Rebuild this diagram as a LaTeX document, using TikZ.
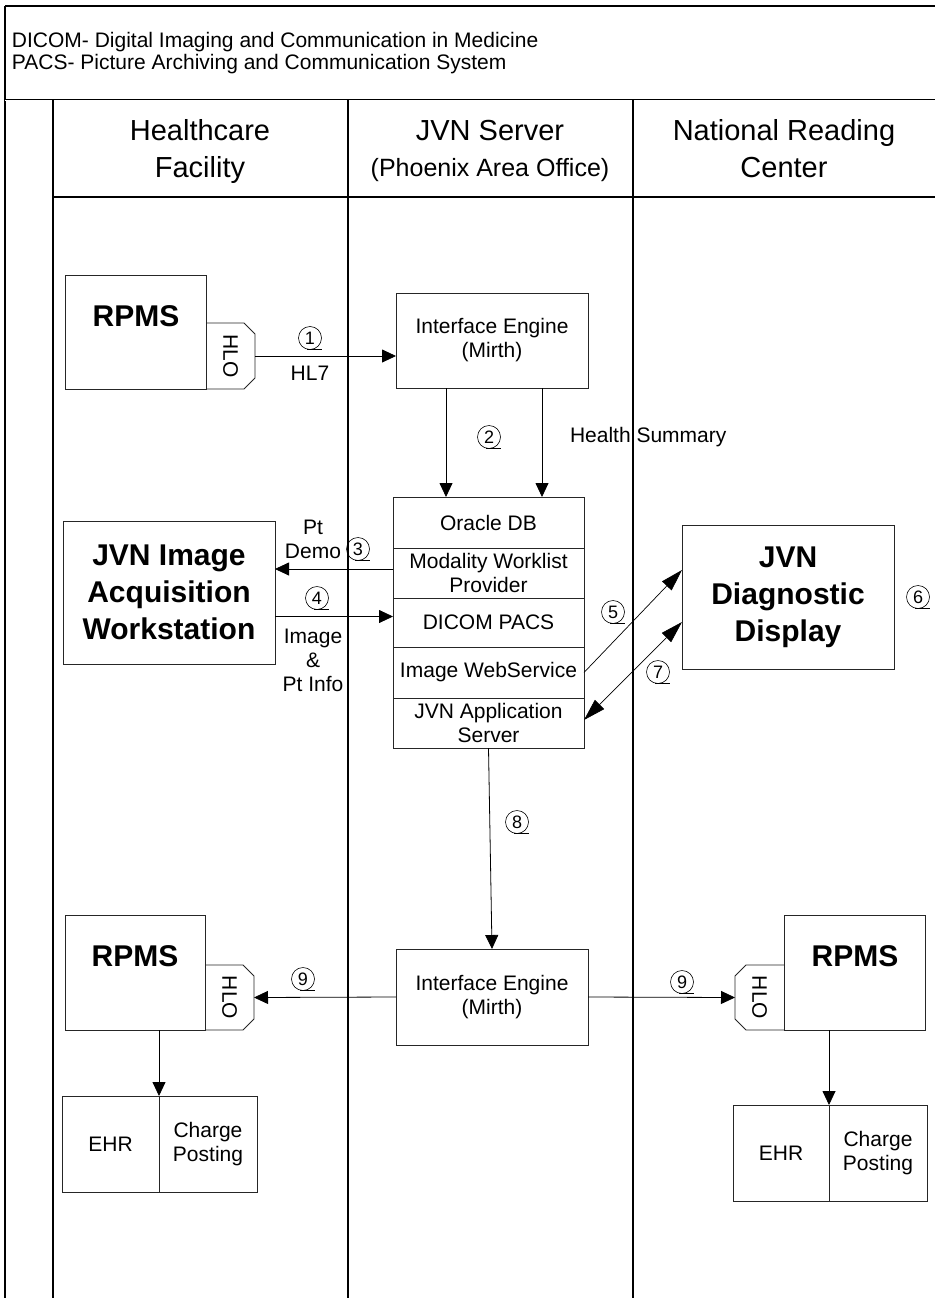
\documentclass[tikz,border=0pt]{standalone}
\usepackage{fontspec}
\setmainfont{Liberation Sans}
\usepackage{graphicx}
\usetikzlibrary{arrows.meta}
\newcommand\circnum[3]{%
  \node[num] (#1) at (#2) {#3};
  \draw[line width=0.6pt] ([xshift=-3pt]#1.south) -- ([xshift=12pt]#1.south);}
\begin{document}
\begin{tikzpicture}[x=1pt,y=-1pt,
  every node/.style={inner sep=0pt,outer sep=0pt},
  lane/.style={line width=1.1pt,black},
  bx/.style={draw=black!85,line width=0.9pt,rectangle},
  hloline/.style={draw=black!85,line width=0.9pt},
  arr/.style={line width=0.8pt,-{Triangle[length=14pt,width=13pt]}},
  darr/.style={line width=0.7pt,-{Triangle[length=22pt,width=13pt]}},
  ddarr/.style={line width=0.7pt,{Triangle[length=22pt,width=13pt]}-{Triangle[length=22pt,width=13pt]}},
  tn/.style={font=\fontsize{21}{24}\selectfont,align=center},
  tleg/.style={font=\fontsize{21}{24}\selectfont,anchor=base west},
  thead/.style={font=\fontsize{29}{37}\selectfont,anchor=base},
  tsub/.style={font=\fontsize{25}{30}\selectfont,anchor=base},
  tbig/.style={font=\fontsize{30}{37}\bfseries\selectfont,align=center},
  hlo/.style={font=\fontsize{21}{24}\selectfont,minimum width=49pt,minimum height=65pt},
  num/.style={circle,draw,line width=0.6pt,minimum size=23pt,font=\fontsize{18}{18}\selectfont},
]
\useasboundingbox (0,0) rectangle (935,1298);

% frame and lanes
\draw[lane] (5,6) -- (935,6);
\draw[lane] (5,6) -- (5,1298);
\draw[line width=0.6pt,double,double distance=1pt] (5,100) -- (935,100);
\draw[lane] (53,100) -- (53,1298);
\draw[lane] (348,100) -- (348,1298);
\draw[lane] (633,100) -- (633,1298);
\draw[lane] (53,197) -- (935,197);

% legend
\node[tleg] (leg1) at (12,47.5) {DICOM- Digital Imaging and Communication in Medicine};
\node[tleg] (leg2) at (12,69.5) {PACS- Picture Archiving and Communication System};

% lane headers
\node[thead] (h1a) at (200,140.5) {Healthcare};
\node[thead] (h1b) at (200,177.5) {Facility};
\node[thead] (h2a) at (490,140.5) {JVN Server};
\node[tsub]  (h2b) at (490,176) {(Phoenix Area Office)};
\node[thead] (h3a) at (784,140.5) {National Reading};
\node[thead] (h3b) at (784,177.5) {Center};

% top RPMS with HLO
\node[bx,minimum width=141pt,minimum height=114pt] (rpms1) at (135.5,332) {};
\node[tbig] (rpmst1) at (136,316) {RPMS};
\node[hlo,minimum height=66pt] (hlo1) at (230.5,356) {\rotatebox{-90}{HLO}};
\draw[hloline] (hlo1.north west) -- ([xshift=-11pt]hlo1.north east) -- ([yshift=-11pt]hlo1.north east)
  -- ([yshift=11pt]hlo1.south east) -- ([xshift=-11pt]hlo1.south east) -- (hlo1.south west);

% interface engine (top)
\node[bx,tn,minimum width=192pt,minimum height=95pt] (ie1) at (492,340.5) {Interface Engine\\(Mirth)};

% server stack
\node[bx,tn,minimum width=191pt,minimum height=51pt] (ora) at (488.5,522.5) {Oracle DB};
\node[bx,tn,minimum width=191pt,minimum height=50pt] (mod) at (488.5,573) {Modality Worklist\\Provider};
\node[bx,tn,minimum width=191pt,minimum height=49pt] (dic) at (488.5,622.5) {DICOM PACS};
\node[bx,tn,minimum width=191pt,minimum height=51pt] (iws) at (488.5,672.5) {Image WebService};
\node[bx,tn,minimum width=191pt,minimum height=50pt] (app) at (488.5,723) {JVN Application\\Server};

% workstation and display
\node[bx,tbig,minimum width=212pt,minimum height=143pt] (wks) at (169,592.5) {JVN Image\\Acquisition\\Workstation};
\node[bx,tbig,minimum width=212pt,minimum height=144pt] (disp) at (788,597) {JVN\\Diagnostic\\Display};

% bottom interface engine
\node[bx,tn,minimum width=192pt,minimum height=96pt] (ie2) at (492,997) {Interface Engine\\(Mirth)};

% bottom left RPMS
\node[bx,minimum width=140pt,minimum height=115pt] (rpms2) at (135,972.5) {};
\node[tbig] (rpmst2) at (135,956) {RPMS};
\node[hlo] (hlo2) at (229.5,997.5) {\rotatebox{-90}{HLO}};
\draw[hloline] (hlo2.north west) -- ([xshift=-11pt]hlo2.north east) -- ([yshift=-11pt]hlo2.north east)
  -- ([yshift=11pt]hlo2.south east) -- ([xshift=-11pt]hlo2.south east) -- (hlo2.south west);

% bottom right RPMS
\node[bx,minimum width=141pt,minimum height=115pt] (rpms3) at (854.5,972.5) {};
\node[tbig] (rpmst3) at (855,956) {RPMS};
\node[hlo] (hlo3) at (759.5,997.5) {\rotatebox{-90}{HLO}};
\draw[hloline] (hlo3.north east) -- ([xshift=11pt]hlo3.north west) -- ([yshift=-11pt]hlo3.north west)
  -- ([yshift=11pt]hlo3.south west) -- ([xshift=11pt]hlo3.south west) -- (hlo3.south east);

% EHR / Charge posting boxes
\node[bx,tn,minimum width=97pt,minimum height=96pt] (ehr1) at (110.5,1144) {EHR};
\node[bx,tn,minimum width=98pt,minimum height=96pt] (chg1) at (208,1144) {Charge\\Posting};
\node[bx,tn,minimum width=96pt,minimum height=96pt] (ehr2) at (781,1153) {EHR};
\node[bx,tn,minimum width=98pt,minimum height=96pt] (chg2) at (878,1153) {Charge\\Posting};

% labels
\node[tn] (hl7) at (310,373) {HL7};
\node[tn] (ptdemo) at (313,539) {Pt\\Demo};
\node[tn] (imginfo) at (313,660) {Image\\\&\\Pt Info};
\node[tn,anchor=west] (hsum) at (570,437) {Health Summary};

% circled numbers
\circnum{c1}{310,338}{1}
\circnum{c2}{489,437}{2}
\circnum{c3}{358,549}{3}
\circnum{c4}{317,598}{4}
\circnum{c5}{613,612}{5}
\circnum{c6}{918,597}{6}
\circnum{c7}{658,672}{7}
\circnum{c8}{517,822}{8}
\circnum{c9a}{303,979}{9}
\circnum{c9b}{682,982}{9}

% connectors
\draw[arr] (hlo1.east) -- (ie1.west |- hlo1.east);
\coordinate (a2l) at ([xshift=-46pt]ie1.south);
\coordinate (a2r) at ([xshift=50pt]ie1.south);
\draw[arr] (a2l) -- (a2l |- ora.north);
\draw[arr] (a2r) -- (a2r |- ora.north);
\coordinate (a3) at ([yshift=4pt]mod.west);
\draw[arr] (a3) -- (wks.east |- a3);
\coordinate (a4) at ([yshift=6pt]dic.west);
\draw[arr] (wks.east |- a4) -- (a4);
\draw[darr] (iws.east) -- ([yshift=27pt]disp.west);
\draw[ddarr] ([yshift=3pt]app.east) -- ([yshift=-25pt]disp.west);
\draw[arr] (app.south) -- (ie2.north);
\draw[arr] (ie2.west) -- (hlo2.east);
\draw[arr] (ie2.east) -- (hlo3.west);
\draw[arr] (ehr1.north east |- rpms2.south) -- (ehr1.north east);
\draw[arr] (ehr2.north east |- rpms3.south) -- (ehr2.north east);
\end{tikzpicture}
\end{document}
